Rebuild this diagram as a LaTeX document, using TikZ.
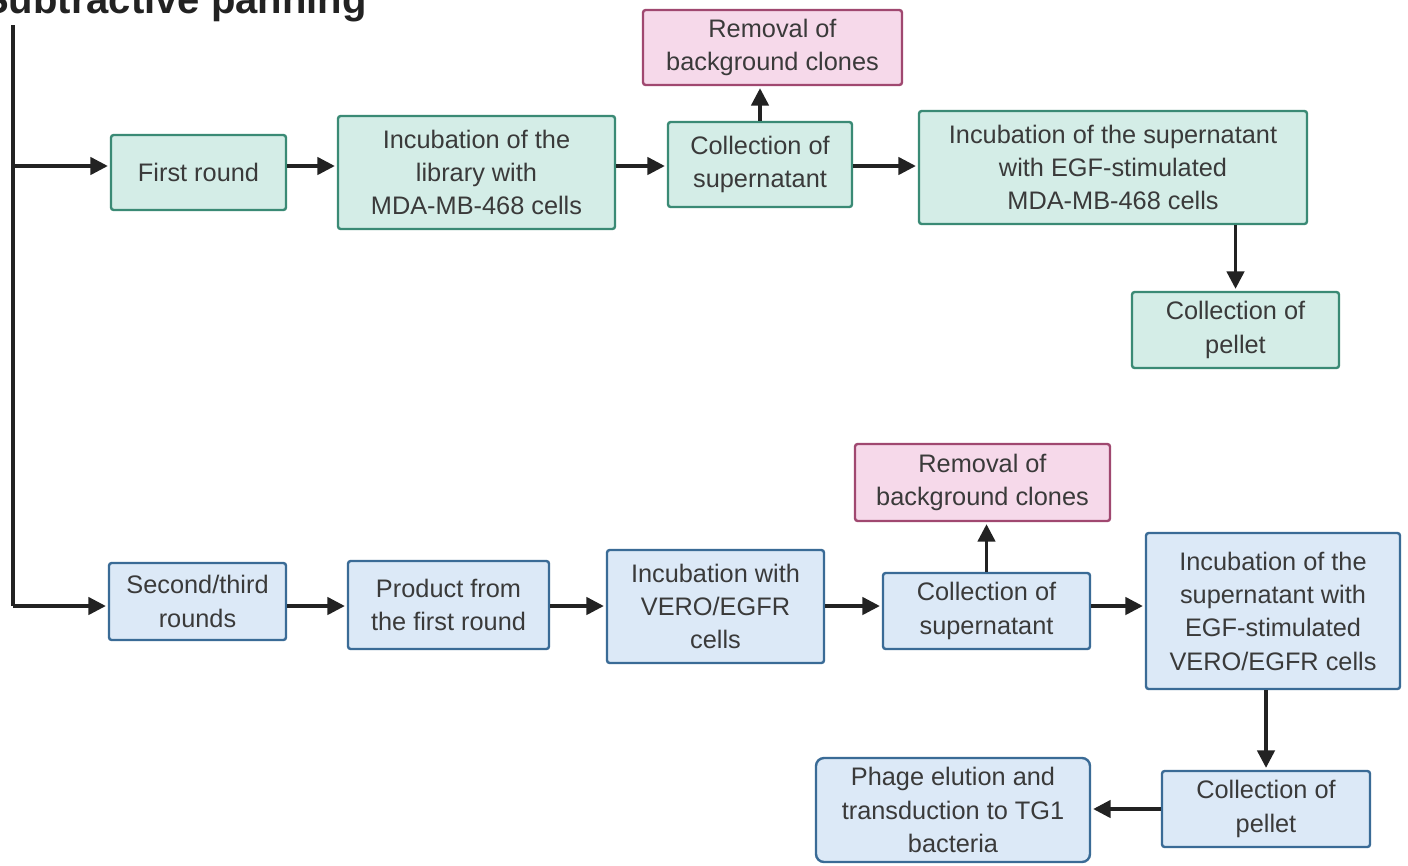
\documentclass[tikz,border=0pt]{standalone}
\usepackage{fontspec}
\setmainfont{Liberation Sans}
\usetikzlibrary{arrows.meta,calc}
\definecolor{txt}{HTML}{3A3A3A}
\definecolor{gfill}{HTML}{D4EDE7}
\definecolor{gline}{HTML}{3A8A75}
\definecolor{pfill}{HTML}{F6D9EA}
\definecolor{pline}{HTML}{A04870}
\definecolor{bfill}{HTML}{DCE9F7}
\definecolor{bline}{HTML}{3A6B96}
\definecolor{arrc}{HTML}{222222}
\tikzset{
  box/.style={draw, line width=1.8pt, rounded corners=2pt, align=center, text=txt,
    font=\fontsize{19}{25}\selectfont, inner sep=2pt},
  gbox/.style={box, fill=gfill, draw=gline},
  pbox/.style={box, fill=pfill, draw=pline},
  bbox/.style={box, fill=bfill, draw=bline},
  arr/.style={draw=arrc, line width=2.4pt, -{Triangle[length=13pt,width=13pt]}, shorten >=1.5pt},
  plainline/.style={draw=arrc, line width=2.4pt}
}
\begin{document}
\begin{tikzpicture}[x=0.75pt,y=-0.75pt]
\useasboundingbox[fill=white] (0,0) rectangle (1408,865);
\node[anchor=base west, font=\fontsize{30}{34}\selectfont\bfseries, text=arrc, inner sep=0] (title) at (-18,13) {Subtractive panning};

% row levels
\coordinate (rowt) at (0,166);
\coordinate (rowb) at (0,606);

% top row
\node[gbox, minimum width=131.25pt, minimum height=56.25pt] (first) at (198.5,172.5) {First round};
\node[gbox, minimum width=207.75pt, minimum height=84.75pt] (incl) at (476.5,172.5) {Incubation of the\\library with\\MDA-MB-468 cells};
\node[gbox, minimum width=138pt, minimum height=63.75pt] (colt) at (760,164.5) {Collection of\\supernatant};
\node[pbox, minimum width=194.25pt, minimum height=56.25pt] (remt) at (772.5,47.5) {Removal of\\background clones};
\node[gbox, minimum width=291pt, minimum height=84.75pt] (egft) at (1113,167.5) {Incubation of the supernatant\\with EGF-stimulated\\MDA-MB-468 cells};
\node[gbox, minimum width=155.25pt, minimum height=57pt] (pelt) at (1235.5,330) {Collection of\\pellet};

% bottom row
\node[bbox, minimum width=132.75pt, minimum height=57.75pt] (second) at (197.5,601.5) {Second/third\\rounds};
\node[bbox, minimum width=150.75pt, minimum height=66pt] (prod) at (448.5,605) {Product from\\the first round};
\node[bbox, minimum width=162.75pt, minimum height=84.75pt] (incv) at (715.5,606.5) {Incubation with\\VERO/EGFR\\cells};
\node[bbox, minimum width=155.25pt, minimum height=57pt] (colb) at (986.5,611) {Collection of\\supernatant};
\node[pbox, minimum width=191.25pt, minimum height=57.75pt] (remb) at (982.5,482.5) {Removal of\\background clones};
\node[bbox, minimum width=190.5pt, minimum height=117pt] (egfb) at (1273,611) {Incubation of the\\supernatant with\\EGF-stimulated\\VERO/EGFR cells};
\node[bbox, minimum width=156pt, minimum height=57pt] (pelb) at (1266,809) {Collection of\\pellet};
\node[bbox, rounded corners=6pt, minimum width=205.5pt, minimum height=78pt] (phage) at (953,810) {Phage elution and\\transduction to TG1\\bacteria};

% left trunk
\coordinate (ltop) at (13,25);
\coordinate (lbot) at (13,606);
\draw[plainline] (ltop) -- (lbot);
\draw[arr] (ltop |- rowt) -- (first.west |- rowt);
\draw[arr] (lbot) -- (second.west |- rowb);

% top connectors
\draw[arr] (first.east |- rowt) -- (incl.west |- rowt);
\draw[arr] (incl.east |- rowt) -- (colt.west |- rowt);
\draw[arr] (colt.east |- rowt) -- (egft.west |- rowt);
\draw[arr] (colt.north) -- (colt.north |- remt.south);
\draw[arr] (pelt.north |- egft.south) -- (pelt.north);

% bottom connectors
\draw[arr] (second.east |- rowb) -- (prod.west |- rowb);
\draw[arr] (prod.east |- rowb) -- (incv.west |- rowb);
\draw[arr] (incv.east |- rowb) -- (colb.west |- rowb);
\draw[arr] (colb.east |- rowb) -- (egfb.west |- rowb);
\draw[arr] (colb.north) -- (colb.north |- remb.south);
\draw[arr] (pelb.north |- egfb.south) -- (pelb.north);
\draw[arr] (pelb.west) -- (pelb.west -| phage.east);
\end{tikzpicture}
\end{document}
